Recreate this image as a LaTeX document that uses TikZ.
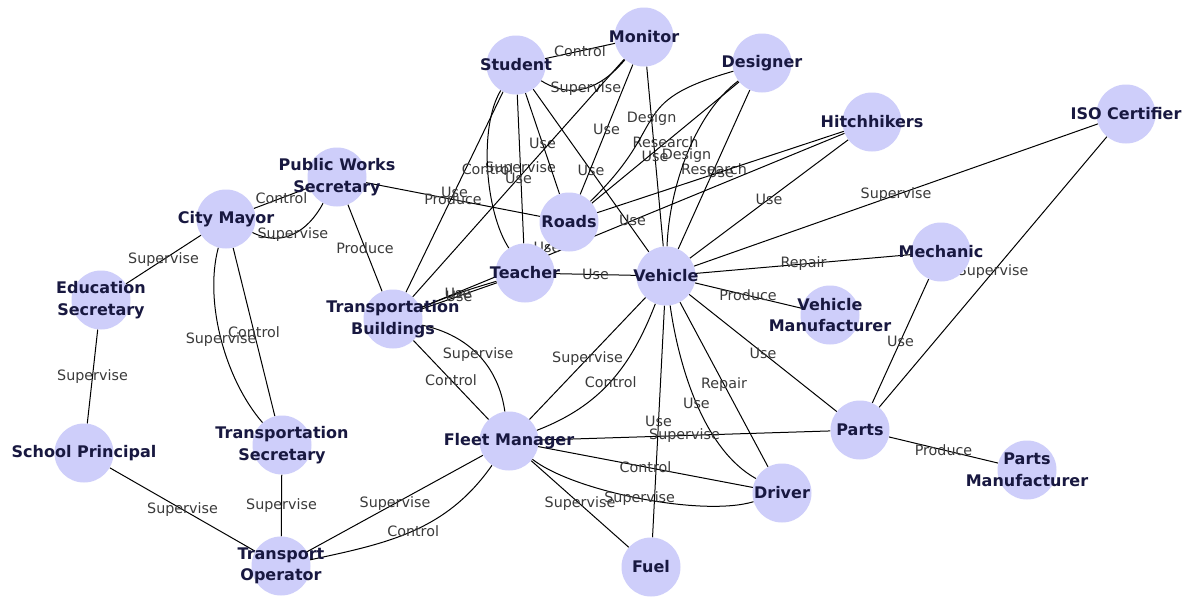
\documentclass[tikz,border=0pt]{standalone}
\usepackage{fontspec}
\setmainfont{DejaVu Sans}
\usetikzlibrary{backgrounds}
\definecolor{vxfill}{RGB}{206,206,250}
\definecolor{vxtext}{RGB}{24,24,64}
\definecolor{eltext}{RGB}{58,58,58}
\tikzset{
  vx/.style={circle, fill=vxfill, draw=none, minimum size=59pt, inner sep=0pt},
  vname/.style={text=vxtext, font=\bfseries\fontsize{16}{21.5}\selectfont, align=center, inner sep=0pt},
  link/.style={draw=black, line width=1pt},
  el/.style={text=eltext, font=\fontsize{14.3}{15}\selectfont, inner sep=0pt, midway},
}
\begin{document}
\begin{tikzpicture}[x=1pt,y=1pt]
\useasboundingbox (0,0) rectangle (1192,-597);

% entity circles
\node[vx] (St)  at (516,-65)  {};
\node[vx] (Mo)  at (644,-37)  {};
\node[vx] (De)  at (762,-63)  {};
\node[vx] (Hi)  at (872,-122) {};
\node[vx] (ISO) at (1126,-114) {};
\node[vx] (PW)  at (337,-177) {};
\node[vx] (CM)  at (226,-219) {};
\node[vx] (ES)  at (101,-300) {};
\node[vx] (SP)  at (84,-453)  {};
\node[vx] (TS)  at (282,-445) {};
\node[vx] (TO)  at (281,-566) {};
\node[vx] (TB)  at (393,-319) {};
\node[vx] (Te)  at (525,-273) {};
\node[vx] (Ro)  at (569,-222) {};
\node[vx] (Ve)  at (666,-276) {};
\node[vx] (Me)  at (941,-252) {};
\node[vx] (VM)  at (830,-315) {};
\node[vx] (Pa)  at (860,-430) {};
\node[vx] (PM)  at (1027,-470) {};
\node[vx] (Dr)  at (782,-493) {};
\node[vx] (Fu)  at (651,-567) {};
\node[vx] (FM)  at (509,-441) {};

\begin{pgfonlayer}{background}
\fill[white] (0,0) rectangle (1192,-597);
% Student
\draw[link] (St) -- node[el]{Control} (Mo);
\draw[link] (St) to[out=-32,in=-130,looseness=1.1] node[el]{Supervise} (Mo);
\draw[link] (St) -- node[el]{Use} (TB);
\draw[link] (St) -- node[el]{Supervise} (Te);
\draw[link] (St) to[out=-121,in=123,looseness=0.7] node[el]{Control} (Te);
\draw[link] (St) -- node[el]{Use} (Ro);
\draw[link] (St) -- node[el]{Use} (Ve);
% Monitor
\draw[link] (Mo) -- node[el]{Use} (TB);
\draw[link] (Mo) -- node[el]{Use} (Ro);
\draw[link] (Mo) -- node[el]{Use} (Ve);
% Designer
\draw[link] (De) -- node[el]{Research} (Ro);
\draw[link] (De) to[out=196,in=44,looseness=1.5] node[el]{Design} (Ro);
\draw[link] (De) -- node[el]{Research} (Ve);
\draw[link] (De) to[out=-143,in=88,looseness=0.8] node[el]{Design} (Ve);
% Hitchhikers and ISO Certifier
\draw[link] (Hi) -- node[el]{Use} (Ro);
\draw[link] (Hi) -- node[el]{Use} (TB);
\draw[link] (Hi) -- node[el]{Use} (Ve);
\draw[link] (ISO) -- node[el]{Supervise} (Ve);
\draw[link] (ISO) -- node[el]{Supervise} (Pa);
% city administration
\draw[link] (PW) -- node[el]{Control} (CM);
\draw[link] (PW) to[out=-118,in=-27,looseness=1.1] node[el]{Supervise} (CM);
\draw[link] (PW) -- node[el]{Produce} (TB);
\draw[link] (PW) -- node[el]{Produce} (Ro);
\draw[link] (CM) -- node[el]{Supervise} (ES);
\draw[link] (CM) -- node[el]{Control} (TS);
\draw[link] (CM) to[out=-105,in=131,looseness=0.8] node[el]{Supervise} (TS);
\draw[link] (ES) -- node[el]{Supervise} (SP);
\draw[link] (SP) -- node[el]{Supervise} (TO);
\draw[link] (TS) -- node[el]{Supervise} (TO);
\draw[link] (FM) -- node[el]{Supervise} (TO);
\draw[link] (FM) to[out=-125,in=12,looseness=1] node[el]{Control} (TO);
% Transportation Buildings and Teacher
\draw[link] (TB) -- node[el]{Control} (FM);
\draw[link] (TB) to[out=-12,in=98,looseness=1] node[el]{Supervise} (FM);
\draw[link] (TB) -- node[el]{Use} (Te);
\draw[link] (TB) to[bend left=3] node[el]{Use} (Te);
\draw[link] (Te) -- node[el]{Use} (Ve);
\draw[link] (Te) -- node[el]{Use} (Ro);
% Vehicle
\draw[link] (Ve) -- node[el]{Repair} (Me);
\draw[link] (Ve) -- node[el]{Produce} (VM);
\draw[link] (Ve) -- node[el]{Use} (Pa);
\draw[link] (Ve) -- node[el]{Repair} (Dr);
\draw[link] (Ve) to[out=-82,in=151,looseness=0.8] node[el]{Use} (Dr);
\draw[link] (Ve) -- node[el]{Use} (Fu);
\draw[link] (Ve) -- node[el]{Supervise} (FM);
\draw[link] (Ve) to[out=-111,in=21,looseness=1] node[el]{Control} (FM);
% Fleet Manager and Parts
\draw[link] (FM) -- node[el]{Supervise} (Pa);
\draw[link] (FM) -- node[el]{Control} (Dr);
\draw[link] (FM) to[out=-38,in=197,looseness=0.6] node[el]{Supervise} (Dr);
\draw[link] (FM) -- node[el]{Supervise} (Fu);
\draw[link] (Pa) -- node[el]{Produce} (PM);
\draw[link] (Pa) -- node[el]{Use} (Me);
\end{pgfonlayer}

% entity names
\node[vname] at (St)  {Student};
\node[vname] at (Mo)  {Monitor};
\node[vname] at (De)  {Designer};
\node[vname] at (Hi)  {Hitchhikers};
\node[vname] at (ISO) {ISO Certifier};
\node[vname] at (PW)  {Public Works\\Secretary};
\node[vname] at (CM)  {City Mayor};
\node[vname] at (ES)  {Education\\Secretary};
\node[vname] at (SP)  {School Principal};
\node[vname] at (TS)  {Transportation\\Secretary};
\node[vname] at (TO)  {Transport\\Operator};
\node[vname] at (TB)  {Transportation\\Buildings};
\node[vname] at (Te)  {Teacher};
\node[vname] at (Ro)  {Roads};
\node[vname] at (Ve)  {Vehicle};
\node[vname] at (Me)  {Mechanic};
\node[vname] at (VM)  {Vehicle\\Manufacturer};
\node[vname] at (Pa)  {Parts};
\node[vname] at (PM)  {Parts\\Manufacturer};
\node[vname] at (Dr)  {Driver};
\node[vname] at (Fu)  {Fuel};
\node[vname] at (FM)  {Fleet Manager};
\end{tikzpicture}
\end{document}
